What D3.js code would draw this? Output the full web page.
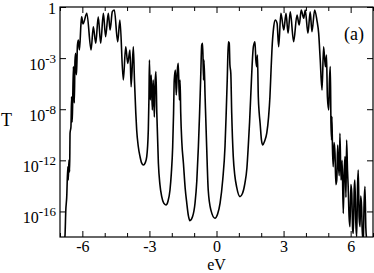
<!DOCTYPE html>
<html>
<head>
<meta charset="utf-8">
<script src="https://cdn.jsdelivr.net/npm/d3@7"></script>
<style>
  body { margin: 0; background: #fff; }
  svg { display: block; font-family: "Liberation Serif", "DejaVu Serif", serif; }
</style>
</head>
<body>
<div id="chart"></div>
<script>
// energies (eV) and log10 of transmission
const energy = [
  -6.82, -6.78, -6.74, -6.70, -6.65, -6.63, -6.60, -6.57, -6.55, -6.51, -6.48, -6.46, -6.44, -6.40,
  -6.38, -6.36, -6.33, -6.30, -6.27, -6.25, -6.22, -6.18, -6.13, -6.06, -6.03, -5.97, -5.80, -5.61,
  -5.51, -5.40, -5.29, -5.18, -5.06, -4.96, -4.84, -4.76, -4.66, -4.57, -4.42, -4.32, -4.17, -4.06,
  -3.97, -3.87, -3.82, -3.72, -3.67, -3.61,
  -3.57, -3.50, -3.42, -3.35, -3.27, -3.19, -3.12, -3.05, -3.02, -3.00,
  -2.96, -2.92, -2.87, -2.83, -2.78, -2.75, -2.71,
  -2.67, -2.60, -2.53, -2.45, -2.36, -2.26, -2.17, -2.08, -2.02, -1.96, -1.92, -1.89, -1.84,
  -1.80, -1.75, -1.71, -1.66, -1.63,
  -1.60, -1.55, -1.48, -1.40, -1.33, -1.26, -1.19, -1.07, -0.96, -0.88, -0.81, -0.76, -0.71,
  -0.66, -0.62, -0.58, -0.56, -0.51,
  -0.44, -0.37, -0.25, -0.07, 0.05, 0.16, 0.28, 0.38, 0.43, 0.48,
  0.53, 0.57, 0.60, 0.64, 0.68,
  0.75, 0.82, 0.90, 1.05, 1.16, 1.27, 1.36, 1.42, 1.48, 1.53,
  1.65, 1.72, 1.76, 1.80, 1.83, 1.87,
  1.91, 1.95, 2.01, 2.07, 2.15, 2.25, 2.33, 2.39,
  2.44, 2.48, 2.56, 2.63, 2.71, 2.78, 2.88, 3.01, 3.11, 3.20, 3.30,
  3.45, 3.60, 3.70, 3.79, 3.90, 3.97, 4.09, 4.19, 4.27, 4.39, 4.49, 4.57, 4.64, 4.72, 4.79,
  4.87, 4.92, 4.96, 5.02, 5.05, 5.09, 5.12, 5.15, 5.16, 5.19, 5.22, 5.26, 5.30, 5.34, 5.38,
  5.42, 5.45, 5.49, 5.52, 5.57, 5.62, 5.67, 5.71, 5.75, 5.79, 5.82, 5.86, 5.89, 5.93, 5.97,
  6.01, 6.05, 6.09, 6.12, 6.16, 6.19, 6.23, 6.27, 6.31, 6.34, 6.38, 6.42, 6.45, 6.49, 6.53,
  6.57, 6.60, 6.64, 6.68, 6.72
];
const log10T = [
  -18.2, -17.97, -15.88, -14.9, -12.50, -13.54, -11.97, -12.9, -9.86, -9.37, -7.02, -9.0, -8.06, -4.67,
  -6.3, -7.51, -4.2, -3.62, -5.3, -4.67, -3.0, -2.58, -3.36, -1.28, -0.76, -1.33, -0.49, -3.36,
  -1.54, -2.84, -0.76, -2.84, -0.49, -2.32, -0.49, -1.80, -0.37, -0.23, -2.72, -1.02, -5.71, -3.11,
  -4.41, -3.36, -6.24, -3.11, -5.71, -8.30,
  -9.63, -10.9, -11.71, -12.2, -12.36, -12.2, -11.71, -9.63, -7.02, -4.15,
  -7.28, -5.32, -8.06, -5.71, -8.61, -6.10, -5.06,
  -8.30, -12.21, -13.9, -14.84, -15.35, -15.49, -15.2, -14.32, -13.0, -10.93, -8.3, -5.71, -4.93,
  -6.89, -4.93, -4.41, -7.28, -5.71,
  -8.30, -10.6, -12.21, -14.2, -15.34, -16.3, -16.72, -16.4, -15.34, -13.6, -10.93, -8.5, -5.71,
  -2.97, -2.84, -5.71, -4.15, -7.02,
  -10.93, -14.32, -15.9, -16.53, -16.2, -15.34, -13.5, -10.93, -8.5, -5.71,
  -2.72, -2.82, -4.53, -5.18, -8.30,
  -11.71, -13.2, -14.07, -14.84, -14.6, -13.80, -12.6, -10.93, -9.0, -7.02,
  -3.11, -2.72, -4.15, -4.67, -3.76, -7.02,
  -8.3, -9.08, -10.4, -10.80, -10.5, -9.86, -8.6, -7.02,
  -4.93, -3.36, -1.54, -1.02, -1.28, -3.11, -0.49, -1.80, -0.49, -2.06, -0.37,
  -2.72, -0.63, -1.41, -0.23, -0.88, -0.23, -2.06, -0.37, -1.93, -0.23, -1.02, -2.06, -4.15, -6.50, -3.11,
  -4.67, -3.76, -7.02, -8.06, -5.9, -4.67, -9.1, -10.41, -8.58, -11.2, -12.50, -10.6, -11.45, -13.9, -13.54,
  -10.8, -12.23, -13.2, -9.88, -13.54, -12.0, -16.15, -13.0, -11.71, -14.9, -10.41, -12.8, -14.06, -16.4, -17.19,
  -13.9, -14.58, -17.4, -17.71, -14.2, -13.54, -16.8, -17.97, -14.0, -12.76, -16.5, -17.19, -14.8, -15.63, -18.1,
  -17.97, -15.5, -14.06, -17.3, -18.2
];

const xMajor = [-6, -3, 0, 3, 6];
const xMinor = [-7, -5, -4, -2, -1, 1, 2, 4, 5, 7];
const yTicks = [1, 1e-4, 1e-8, 1e-12, 1e-16];
const yTickBase = ["1", "10", "10", "10", "10"];
const yTickExp = ["", "-3", "-8", "-12", "-16"];

const W = 374, H = 273;
const margin = {top: 7, right: 1, bottom: 36, left: 60};

const svg = d3.select("#chart").append("svg")
  .attr("width", W).attr("height", H);

const x = d3.scaleLinear().domain([-7, 7]).range([margin.left, W - margin.right]);
const y = d3.scaleLog().domain([1e-18, 1]).range([H - margin.bottom, margin.top]);

svg.append("clipPath").attr("id", "clip")
  .append("rect")
    .attr("x", margin.left).attr("y", margin.top)
    .attr("width", W - margin.right - margin.left)
    .attr("height", H - margin.bottom - margin.top);

const data = energy.map((e, i) => ({e: e, t: Math.pow(10, log10T[i])}));

svg.append("path")
  .datum(data)
  .attr("clip-path", "url(#clip)")
  .attr("fill", "none")
  .attr("stroke", "#000")
  .attr("stroke-width", 1.6)
  .attr("stroke-linejoin", "round")
  .attr("d", d3.line().curve(d3.curveMonotoneX).x(d => x(d.e)).y(d => y(d.t)));

const styleAxis = g => {
  g.select(".domain").remove();
  g.selectAll("line").attr("stroke", "#000").attr("stroke-width", 1);
};

// bottom
svg.append("g")
  .attr("transform", `translate(0,${H - margin.bottom})`)
  .call(d3.axisBottom(x).tickValues(xMajor).tickSize(-6).tickPadding(4))
  .call(styleAxis)
  .call(g => g.selectAll("text").attr("font-size", 16).attr("fill", "#000")
    .attr("font-family", "Liberation Serif").text(d => String(d)));
svg.append("g")
  .attr("transform", `translate(0,${H - margin.bottom})`)
  .call(d3.axisBottom(x).tickValues(xMinor).tickSize(-4).tickFormat(""))
  .call(styleAxis);
// top
svg.append("g")
  .attr("transform", `translate(0,${margin.top})`)
  .call(d3.axisTop(x).tickValues(xMajor).tickSize(-6).tickFormat(""))
  .call(styleAxis);
svg.append("g")
  .attr("transform", `translate(0,${margin.top})`)
  .call(d3.axisTop(x).tickValues(xMinor).tickSize(-4).tickFormat(""))
  .call(styleAxis);
// left
svg.append("g")
  .attr("transform", `translate(${margin.left},0)`)
  .call(d3.axisLeft(y).tickValues(yTicks).tickSize(-6).tickPadding(4).tickFormat(""))
  .call(styleAxis)
  .call(g => g.selectAll(".tick text").each(function(d, i) {
    const t = d3.select(this)
      .attr("font-size", 16).attr("fill", "#000")
      .attr("font-family", "Liberation Serif")
      .attr("dy", yTickExp[i] ? "11px" : "6px");
    t.append("tspan").text(yTickBase[i]);
    if (yTickExp[i]) t.append("tspan").attr("dy", -7).attr("font-size", 13).text(yTickExp[i]);
  }));
// right
svg.append("g")
  .attr("transform", `translate(${W - margin.right},0)`)
  .call(d3.axisRight(y).tickValues(yTicks).tickSize(-6).tickFormat(""))
  .call(styleAxis);

// frame
svg.append("rect")
  .attr("x", margin.left).attr("y", margin.top)
  .attr("width", W - margin.right - margin.left)
  .attr("height", H - margin.bottom - margin.top)
  .attr("fill", "none").attr("stroke", "#000").attr("stroke-width", 1.2);

svg.append("text")
  .attr("x", x(0)).attr("y", 270)
  .attr("text-anchor", "middle").attr("font-size", 16)
  .text("eV");

svg.append("text")
  .attr("x", 1).attr("y", 126)
  .attr("font-size", 18)
  .text("T");

svg.append("text")
  .attr("x", 344).attr("y", 40)
  .attr("font-size", 18)
  .text("(a)");
</script>
</body>
</html>
